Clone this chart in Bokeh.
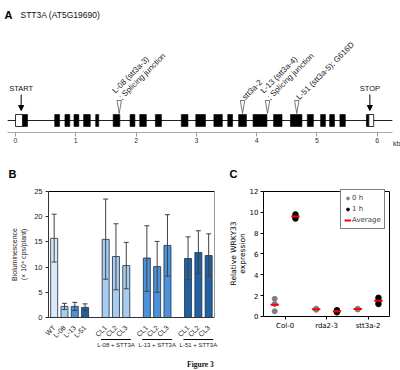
import numpy as np
from math import pi
from bokeh.plotting import figure
from bokeh.layouts import column, row
from bokeh.models import (LinearAxis, FixedTicker, Range1d, Arrow, NormalHead,
                          Legend, LegendItem)
from bokeh.core.properties import value
from bokeh.embed import file_html
from bokeh.resources import INLINE

# ---------------- Panel A data (gene model, kb) ----------------
gene_title = "STT3A (AT5G19690)"
gene_start, gene_end = -0.13, 6.25
utr_starts = [0.0, 5.86]
utr_ends = [0.116, 5.94]
exon_starts = [0.116, 0.65, 0.82, 0.97, 1.13, 1.33, 1.62, 1.90, 2.06, 2.32, 2.75, 2.99,
               3.29, 3.52, 3.70, 3.94, 4.28, 4.56, 4.84, 5.06, 5.21, 5.38, 5.82]
exon_ends = [0.199, 0.73, 0.90, 1.05, 1.24, 1.38, 1.73, 1.98, 2.17, 2.42, 2.86, 3.15,
             3.43, 3.60, 3.83, 4.17, 4.42, 4.75, 4.94, 5.14, 5.29, 5.47, 5.86]
start_codon = 0.094
stop_codon = 5.877
mut_pos = [1.72, 3.765, 4.18, 4.665]
mut_line1 = ["L-08 (stt3a-3)", "", "L-13 (stt3a-4)", ""]
mut_line2 = ["; Splicing junction", "stt3a-2", "; Splicing junction", "L-51 (stt3a-5); G616D"]
kb_ticks = [0, 1, 2, 3, 4, 5, 6]

# ---------------- Panel B data ----------------
b_labels = ["WT", "L-08", "L-13", "L-51", "CL1", "CL2", "CL3", "CL1", "CL2", "CL3", "CL1", "CL2", "CL3"]
b_pos = [0, 1, 2, 3, 5, 6, 7, 9, 10, 11, 13, 14, 15]
b_mean = [15.7, 2.2, 2.2, 2.0, 15.5, 12.1, 10.3, 11.8, 10.1, 14.3, 11.7, 12.9, 12.3]
b_upper = [20.5, 2.8, 3.0, 2.7, 23.5, 18.6, 14.9, 18.2, 15.1, 20.4, 16.0, 17.2, 16.6]
b_lower = [11.0, 1.6, 1.4, 1.4, 7.6, 5.5, 5.7, 5.2, 5.0, 8.2, 7.5, 8.7, 8.3]
b_colors = ["#dde9f6", "#a8cbee", "#4d91da", "#22609f",
            "#a8cbee", "#a8cbee", "#a8cbee",
            "#4d91da", "#4d91da", "#4d91da",
            "#22609f", "#22609f", "#22609f"]
group_names = ["L-08 + STT3A", "L-13 + STT3A", "L-51 + STT3A"]
group_members = [[5, 6, 7], [9, 10, 11], [13, 14, 15]]
b_yticks = [0, 5, 10, 15, 20, 25]

# ---------------- Panel C data ----------------
c_groups = ["Col-0", "rda2-3", "stt3a-2"]
c_group_idx = [0, 0, 0, 1, 1, 1, 2, 2, 2]
c_h0 = [1.7, 1.2, 0.5, 0.75, 0.7, 0.65, 0.75, 0.7, 0.68]
c_h1 = [9.8, 9.6, 9.4, 0.6, 0.5, 0.4, 1.8, 1.5, 1.2]
c_yticks = [0, 2, 4, 6, 8, 10, 12]

SANS = value("Liberation Sans")
DJV = value("DejaVu Sans")


def blank_axis(ax):
    ax.ticker = FixedTicker(ticks=[])
    ax.major_tick_line_color = None
    ax.minor_tick_line_color = None
    ax.major_label_text_color = None


# ======================= Panel A =======================
pA = figure(width=400, height=160, x_range=Range1d(-0.2488, 6.385), y_range=Range1d(0, 160),
            output_backend="svg", toolbar_location=None, y_axis_location=None, min_border=0)
pA.outline_line_color = None
pA.grid.visible = False
Y_AXIS, Y_LINE, EX_LO, EX_HI = 28.3, 40, 34, 46
TRI_TOP, TRI_TIP, AR_TOP, AR_TIP, LBL_Y = 60, 47, 66, 50, 72

axA = pA.xaxis[0]
axA.fixed_location = Y_AXIS
axA.bounds = (gene_start, gene_end)
axA.ticker = FixedTicker(ticks=kb_ticks)
axA.minor_tick_line_color = None
axA.major_tick_in = 0
axA.major_tick_out = 4
axA.major_tick_line_color = "#999999"
axA.axis_line_color = "#aaaaaa"
axA.major_label_text_font_size = "7px"
axA.major_label_text_font = "Liberation Sans"
axA.major_label_text_color = "#333333"
axA.major_label_standoff = 2

pA.segment(x0=[gene_start], y0=[Y_LINE], x1=[gene_end], y1=[Y_LINE], line_color="#222222", line_width=1)
pA.quad(left=exon_starts, right=exon_ends, bottom=EX_LO, top=EX_HI,
        fill_color="black", line_color="black", line_width=0.6)
pA.quad(left=utr_starts, right=utr_ends, bottom=EX_LO, top=EX_HI,
        fill_color="white", line_color="black", line_width=0.8)
hw = 2.2 / 60.3
pA.patches(xs=[[m - hw, m + hw, m] for m in mut_pos],
           ys=[[TRI_TOP, TRI_TOP, TRI_TIP] for _ in mut_pos],
           fill_color="white", line_color="#555555", line_width=0.8)
for xc in (start_codon, stop_codon):
    pA.add_layout(Arrow(end=NormalHead(size=5, fill_color="black", line_color="black"),
                        x_start=xc, y_start=AR_TOP, x_end=xc, y_end=AR_TIP,
                        line_color="black", line_width=1))
pA.text(x=[start_codon, stop_codon], y=[LBL_Y, LBL_Y], text=["START", "STOP"],
        text_align="center", text_baseline="middle", text_font_size="7.5px", text_font=SANS,
        text_color="#111111")
pA.text(x=mut_pos, y=[TRI_TOP] * len(mut_pos), text=mut_line2, angle=pi / 4,
        x_offset=1, y_offset=-2, text_align="left", text_baseline="alphabetic",
        text_font_size="8px", text_font=SANS, text_color="#222222")
l1x = [m for m, t in zip(mut_pos, mut_line1) if t]
l1t = [t for t in mut_line1 if t]
pA.text(x=l1x, y=[TRI_TOP] * len(l1x), text=l1t, angle=pi / 4,
        x_offset=-5.5, y_offset=-8.5, text_align="left", text_baseline="alphabetic",
        text_font_size="8px", text_font=SANS, text_color="#222222")
pA.text(x=[-0.182], y=[146], text=["A"], text_align="left", text_baseline="middle",
        text_font_size="11px", text_font_style="bold", text_font=SANS, text_color="black")
pA.text(x=[0.083], y=[146], text=[gene_title], text_align="left", text_baseline="middle",
        text_font_size="8.5px", text_font=SANS, text_color="#111111")
pA.text(x=[6.26], y=[17.3], text=["kb"], text_align="left", text_baseline="middle",
        text_font_size="7px", text_font=SANS, text_color="#333333")

# ======================= Panel B =======================
pB = figure(width=225, height=210, x_range=Range1d(-5.210, 16.634), y_range=Range1d(-10.516, 31.15),
            output_backend="svg", toolbar_location=None, min_border=0)
pB.outline_line_color = None
pB.grid.visible = False
BXL, BXR, BYT = -0.55, 15.57, 25

ayB = pB.yaxis[0]
ayB.fixed_location = BXL
ayB.bounds = (0, BYT)
ayB.ticker = FixedTicker(ticks=b_yticks)
ayB.minor_tick_line_color = None
ayB.major_tick_in = 0
ayB.major_tick_out = 3
ayB.axis_line_color = "#333333"
ayB.major_tick_line_color = "#333333"
ayB.major_label_text_font_size = "7.5px"
ayB.major_label_text_font = "Liberation Sans"
ayB.major_label_text_color = "#222222"
ayB.major_label_standoff = 3

axB = pB.xaxis[0]
axB.fixed_location = 0
axB.bounds = (BXL, BXR)
axB.ticker = FixedTicker(ticks=b_pos)
axB.major_label_overrides = {p: l for p, l in zip(b_pos, b_labels)}
axB.major_label_orientation = pi / 4
axB.major_tick_line_color = None
axB.minor_tick_line_color = None
axB.axis_line_color = "#333333"
axB.major_label_text_font_size = "7px"
axB.major_label_text_font = "Liberation Sans"
axB.major_label_text_color = "#222222"
axB.major_label_standoff = 3

topB = LinearAxis(fixed_location=BYT, bounds=(BXL, BXR), axis_line_color="black", axis_line_width=1.2)
blank_axis(topB)
pB.add_layout(topB, "above")
rightB = LinearAxis(fixed_location=BXR, bounds=(0, BYT), axis_line_color="#999999")
blank_axis(rightB)
pB.add_layout(rightB, "right")

pB.vbar(x=b_pos, top=b_mean, bottom=0, width=0.68, fill_color=b_colors,
        line_color="#1b2f45", line_width=0.8)
cap = 0.24
pB.segment(x0=b_pos, y0=b_lower, x1=b_pos, y1=b_upper, line_color="#404040", line_width=1)
pB.segment(x0=[x - cap for x in b_pos], y0=b_upper, x1=[x + cap for x in b_pos], y1=b_upper,
           line_color="#404040", line_width=1)
pB.segment(x0=[x - cap for x in b_pos], y0=b_lower, x1=[x + cap for x in b_pos], y1=b_lower,
           line_color="#404040", line_width=1)

g_left = [min(g) - 0.45 for g in group_members]
g_right = [max(g) + 0.45 for g in group_members]
g_mid = [float(np.mean(g)) for g in group_members]
pB.segment(x0=g_left, y0=[-4.37] * 3, x1=g_right, y1=[-4.37] * 3, line_color="black", line_width=1)
pB.text(x=g_mid, y=[-5.4] * 3, text=group_names, text_align="center", text_baseline="middle",
        text_font_size="6px", text_font=SANS, text_color="#222222")
pB.text(x=[-4.433], y=[28.57], text=["B"], text_align="left", text_baseline="middle",
        text_font_size="11px", text_font_style="bold", text_font=SANS, text_color="black")
pB.text(x=[-3.85, -2.98], y=[12.5, 12.5], text=["Bioluminescence", "(× 10⁴ cps/plant)"],
        angle=pi / 2, text_align="center", text_baseline="middle",
        text_font_size="7px", text_font=SANS, text_color="#222222")
pB.text(x=[14.2], y=[-9.3], text=["Figure 3"], text_align="center", text_baseline="middle",
        text_font_size="7.5px", text_font_style="bold", text_font=value("Liberation Serif"),
        text_color="#111111")

# ======================= Panel C =======================
pC = figure(width=175, height=210, x_range=Range1d(-1.436, 2.781), y_range=Range1d(-5.182, 14.97),
            output_backend="svg", toolbar_location=None, min_border=0)
pC.outline_line_color = None
pC.grid.visible = False
CXL, CXR, CYT = -0.52, 2.516, 12

ayC = pC.yaxis[0]
ayC.fixed_location = CXL
ayC.bounds = (0, CYT)
ayC.ticker = FixedTicker(ticks=c_yticks)
ayC.minor_tick_line_color = None
ayC.major_tick_in = 0
ayC.major_tick_out = 3
ayC.axis_line_color = "black"
ayC.major_label_text_font_size = "7px"
ayC.major_label_text_font = "DejaVu Sans"
ayC.major_label_text_color = "black"
ayC.major_label_standoff = 2

axC = pC.xaxis[0]
axC.fixed_location = 0
axC.bounds = (CXL, CXR)
axC.ticker = FixedTicker(ticks=[0, 1, 2])
axC.major_label_overrides = {i: g for i, g in enumerate(c_groups)}
axC.minor_tick_line_color = None
axC.major_tick_in = 0
axC.major_tick_out = 3
axC.axis_line_color = "black"
axC.major_label_text_font_size = "7px"
axC.major_label_text_font = "DejaVu Sans"
axC.major_label_text_color = "black"
axC.major_label_standoff = 3

topC = LinearAxis(fixed_location=CYT, bounds=(CXL, CXR), axis_line_color="black")
blank_axis(topC)
pC.add_layout(topC, "above")
rightC = LinearAxis(fixed_location=CXR, bounds=(0, CYT), axis_line_color="black")
blank_axis(rightC)
pC.add_layout(rightC, "right")

off = 0.25
x0h = [g - off for g in c_group_idx]
x1h = [g + off for g in c_group_idx]
r0 = pC.scatter(x=x0h, y=c_h0, size=5, fill_color="#808080", line_color="#808080")
r1 = pC.scatter(x=x1h, y=c_h1, size=5.5, fill_color="black", line_color="black")
avg0 = [float(np.mean([v for gi, v in zip(c_group_idx, c_h0) if gi == g])) for g in range(3)]
avg1 = [float(np.mean([v for gi, v in zip(c_group_idx, c_h1) if gi == g])) for g in range(3)]
ax_avg = [g - off for g in range(3)] + [g + off for g in range(3)]
ay_avg = avg0 + avg1
ra = pC.segment(x0=[x - 0.1 for x in ax_avg], y0=ay_avg, x1=[x + 0.1 for x in ax_avg], y1=ay_avg,
                line_color="red", line_width=2)

leg = Legend(items=[LegendItem(label="0 h", renderers=[r0]),
                    LegendItem(label="1 h", renderers=[r1]),
                    LegendItem(label="Average", renderers=[ra])],
             location=(115, 141), border_line_color="black", border_line_width=1,
             background_fill_color="white", background_fill_alpha=1,
             label_text_font_size="7px", label_text_font="DejaVu Sans",
             glyph_width=7, glyph_height=10, label_height=10, label_standoff=1,
             spacing=1, padding=3, margin=0)
pC.add_layout(leg)

pC.text(x=[-1.339], y=[13.72], text=["C"], text_align="left", text_baseline="middle",
        text_font_size="11px", text_font_style="bold", text_font=SANS, text_color="black")
pC.text(x=[-1.243, -1.026], y=[6.05, 6.05], text=["Relative WRKY33", "expression"],
        angle=pi / 2, text_align="center", text_baseline="middle",
        text_font_size="7.5px", text_font=DJV, text_color="black")

layout = column(pA, row(pB, pC))
open("out.html", "w").write(file_html(layout, INLINE))
